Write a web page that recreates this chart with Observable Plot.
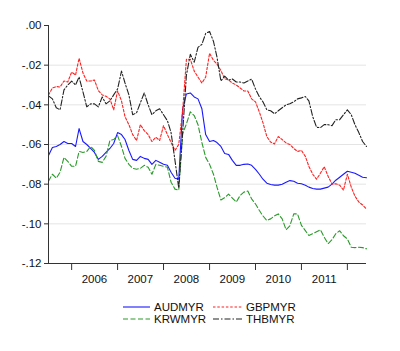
<!DOCTYPE html>
<html><head><meta charset="utf-8">
<script src="https://cdn.jsdelivr.net/npm/d3@7"></script>
<script src="https://cdn.jsdelivr.net/npm/@observablehq/plot@0.6"></script>
<style>
body{margin:0;background:#fff;font-family:"Liberation Sans",Arial,sans-serif;}
#wrap{position:relative;width:400px;height:351px;overflow:hidden;}
.lg{position:absolute;font-size:11.5px;color:#111;display:flex;align-items:center;height:12px;white-space:nowrap;}
.lg svg{margin-right:4px;}
</style></head><body><div id="wrap"></div>
<script>
// Monthly observations 2005M07 .. 2012M06
const startMonth = new Date(Date.UTC(2005, 6, 1));
const endMonth = new Date(Date.UTC(2012, 6, 1));
const months = d3.utcMonth.range(startMonth, endMonth);

const yearTicks = [2006, 2007, 2008, 2009, 2010, 2011, 2012];
const yearLabels = [2006, 2007, 2008, 2009, 2010, 2011];
const yTicks = [0, -0.02, -0.04, -0.06, -0.08, -0.10, -0.12];
const gridTicks = [-0.02, -0.04, -0.06, -0.08, -0.10];

const AUDMYR = [-.0655,-.0615,-.061,-.060,-.0585,-.0595,-.0595,-.061,-.052,-.0585,
-.060,-.062,-.064,-.0675,-.066,-.064,-.062,-.0595,-.054,-.055,
-.0575,-.063,-.0675,-.068,-.066,-.067,-.0675,-.070,-.068,-.069,
-.070,-.0705,-.074,-.077,-.0775,-.042,-.0345,-.034,-.036,-.037,
-.042,-.055,-.0585,-.058,-.059,-.061,-.0645,-.065,-.068,-.0705,
-.0705,-.070,-.0698,-.0705,-.0725,-.075,-.0775,-.0795,-.0802,-.0805,
-.0805,-.080,-.079,-.0782,-.0785,-.0795,-.0798,-.0805,-.0815,-.0822,
-.0825,-.0825,-.082,-.0815,-.080,-.078,-.0765,-.075,-.0735,-.074,
-.0745,-.0755,-.0765,-.0768];

const GBPMYR = [-.035,-.0315,-.0308,-.031,-.028,-.0285,-.0235,-.025,-.0165,-.024,
-.028,-.028,-.0275,-.0328,-.035,-.0357,-.037,-.0425,-.033,-.038,
-.046,-.050,-.055,-.058,-.050,-.053,-.055,-.0585,-.0563,-.058,
-.0505,-.055,-.059,-.063,-.060,-.043,-.017,-.017,-.023,-.026,
-.029,-.026,-.014,-.0176,-.0195,-.0227,-.0269,-.0275,-.029,-.030,
-.0315,-.033,-.033,-.037,-.0385,-.0437,-.049,-.056,-.0588,-.0597,
-.056,-.0575,-.0592,-.060,-.062,-.0635,-.063,-.066,-.071,-.075,
-.0775,-.0745,-.0712,-.076,-.080,-.0798,-.0805,-.083,-.075,-.0815,
-.086,-.089,-.0905,-.0925];

const KRWMYR = [-.0785,-.075,-.077,-.074,-.0665,-.0685,-.071,-.071,-.0635,-.064,
-.0635,-.061,-.063,-.0685,-.069,-.066,-.058,-.0575,-.0555,-.061,
-.067,-.070,-.072,-.0725,-.072,-.0705,-.0715,-.075,-.070,-.0705,
-.071,-.0715,-.079,-.0825,-.083,-.0546,-.0496,-.0435,-.0454,-.050,
-.059,-.0665,-.070,-.075,-.0815,-.088,-.0868,-.085,-.087,-.089,
-.0857,-.084,-.0835,-.0874,-.090,-.0933,-.096,-.0983,-.0975,-.096,
-.095,-.0975,-.103,-.101,-.095,-.095,-.1008,-.1034,-.1059,-.105,
-.104,-.103,-.1067,-.110,-.108,-.105,-.1035,-.106,-.1076,-.1118,
-.112,-.1118,-.112,-.1126];

const THBMYR = [-.0355,-.037,-.0415,-.0425,-.0325,-.030,-.028,-.030,-.026,-.0335,
-.041,-.0395,-.0395,-.041,-.036,-.0395,-.038,-.035,-.032,-.023,
-.029,-.035,-.045,-.044,-.039,-.034,-.040,-.045,-.043,-.042,
-.045,-.048,-.054,-.068,-.082,-.054,-.025,-.0145,-.0185,-.011,
-.0095,-.004,-.003,-.008,-.016,-.028,-.0255,-.0275,-.027,-.0285,
-.0285,-.029,-.028,-.027,-.032,-.036,-.0385,-.0425,-.043,-.0445,
-.043,-.0415,-.040,-.0395,-.0385,-.037,-.0365,-.0358,-.038,-.046,
-.0513,-.0515,-.050,-.050,-.0505,-.0475,-.0475,-.045,-.0425,-.045,
-.050,-.054,-.0585,-.061];

const series = [
  {name: "AUDMYR", values: AUDMYR, stroke: "#1a1aff", dash: null},
  {name: "GBPMYR", values: GBPMYR, stroke: "#ff2020", dash: "2.5,1.8"},
  {name: "KRWMYR", values: KRWMYR, stroke: "#2a9a2a", dash: "5,2.5"},
  {name: "THBMYR", values: THBMYR, stroke: "#222222", dash: "6,2,1.5,2"}
];

const tables = series.map(s => s.values.map((v, i) => ({date: months[i], value: v})));
const yr = y => new Date(Date.UTC(y, 0, 1));
const midYr = y => new Date(Date.UTC(y, 6, 1));

const plot = Plot.plot({
  width: 400,
  height: 292,
  marginLeft: 48,
  marginRight: 34,
  marginTop: 25,
  marginBottom: 29,
  style: {fontFamily: '"Liberation Sans", Arial, sans-serif', fontSize: "11.5px", color: "#111", background: "#fff"},
  x: {type: "utc", domain: [months[0], months[months.length - 1]]},
  y: {domain: [-0.12, 0]},
  marks: [
    Plot.ruleY(gridTicks, {stroke: "#e4e4e4", strokeWidth: 1}),
    ...series.map((s, k) => Plot.line(tables[k], {
      x: "date", y: "value", stroke: s.stroke, strokeWidth: 1.1,
      strokeDasharray: s.dash
    })),
    Plot.ruleX([months[0]], {stroke: "#333", strokeWidth: 1}),
    Plot.ruleY([-0.12], {stroke: "#333", strokeWidth: 1}),
    Plot.axisY({ticks: yTicks, tickSize: 4, tickPadding: 3, stroke: "#333",
      tickFormat: v => v === 0 ? ".00" : v.toFixed(2).replace("0.", "."), label: null}),
    Plot.axisX({ticks: yearTicks.map(yr), tickSize: 7, tickFormat: () => "", stroke: "#333", label: null}),
    Plot.axisX({ticks: yearLabels.map(midYr), tickSize: 0, tickPadding: 11,
      tickFormat: d => String(d.getUTCFullYear()), label: null})
  ]
});

const wrap = document.getElementById("wrap");
wrap.appendChild(plot);

const legendPos = [[123, 301], [213, 301], [123, 313], [213, 313]];
const order = [0, 1, 2, 3];
order.forEach((k, i) => {
  const s = series[k];
  const div = document.createElement("div");
  div.className = "lg";
  div.style.left = legendPos[i][0] + "px";
  div.style.top = legendPos[i][1] + "px";
  const w = i % 2 === 0 ? 27 : 29;
  div.innerHTML = `<svg width="${w}" height="10"><line x1="0" x2="${w}" y1="5" y2="5" stroke="${s.stroke}" stroke-width="1.1" ${s.dash ? `stroke-dasharray="${s.dash}"` : ""}/></svg><span>${s.name}</span>`;
  wrap.appendChild(div);
});
</script></body></html>
